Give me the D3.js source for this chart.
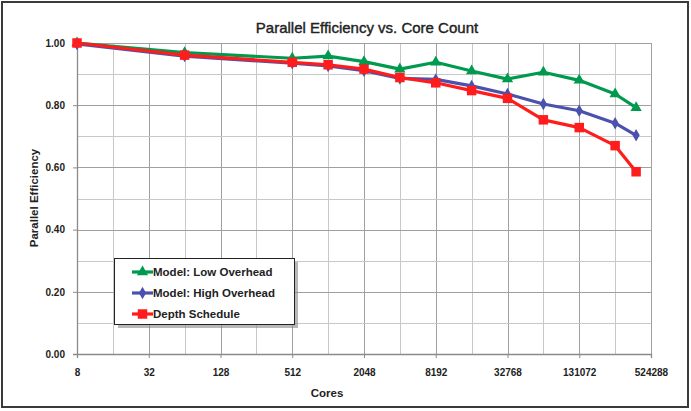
<!DOCTYPE html>
<html>
<head>
<meta charset="utf-8">
<script src="https://cdn.jsdelivr.net/npm/d3@7"></script>
<style>
  body { margin: 0; background: #fff; }
  svg text { font-family: "Liberation Sans", Arial, sans-serif; }
</style>
</head>
<body>
<svg id="chart" width="691" height="411"></svg>
<script>
// data
var cores = [8, 64, 512, 1024, 2048, 4096, 8192, 16384, 32768, 65536, 131072, 262144, 393216]
var lowOverhead  = [1.00, 0.969, 0.951, 0.958, 0.940, 0.916, 0.938, 0.910, 0.884, 0.906, 0.880, 0.836, 0.792]
var highOverhead = [0.997, 0.958, 0.935, 0.926, 0.911, 0.886, 0.883, 0.862, 0.836, 0.804, 0.782, 0.742, 0.703]
var depthSched   = [1.00, 0.961, 0.938, 0.930, 0.916, 0.889, 0.872, 0.847, 0.822, 0.753, 0.728, 0.670, 0.586]
var xTicks = [8, 32, 128, 512, 2048, 8192, 32768, 131072, 524288]
var yTicks = [0, 0.2, 0.4, 0.6, 0.8, 1.0]
var seriesNames = ["Model: Low Overhead", "Model: High Overhead", "Depth Schedule"]

var series = [
    {name: seriesNames[0], values: lowOverhead,  color: "#009a4e", marker: "triangle"},
    {name: seriesNames[1], values: highOverhead, color: "#4b52ad", marker: "diamond"},
    {name: seriesNames[2], values: depthSched,   color: "#ff1c1c", marker: "square"}
]

var margin = {left: 77, right: 40, top: 43, bottom: 57}
var screen = {width: 691, height: 411}
var graph = {
    width: screen.width - margin.left - margin.right,
    height: screen.height - margin.top - margin.bottom
}

var svg = d3.select("#chart")

// outer frame
svg.append("rect")
    .attr("x", 2).attr("y", 2)
    .attr("width", 686).attr("height", 405)
    .attr("fill", "#fff")
    .attr("stroke", "#3a3a3a")
    .attr("stroke-width", 2)

var xScale = d3.scaleLog().base(2)
    .domain([8, 524288])
    .range([0, graph.width])

var yScale = d3.scaleLinear()
    .domain([0, 1])
    .range([graph.height, 0])

var target = svg.append("g")
    .attr("transform", "translate(" + margin.left + "," + margin.top + ")")

// grid: every doubling vertically, every 0.1 horizontally
var vGrid = d3.range(4, 20).map(function(p) { return Math.pow(2, p) })
target.selectAll(".vgrid")
    .data(vGrid)
    .enter()
    .append("line")
      .attr("x1", d => Math.round(xScale(d)) + 0.5)
      .attr("x2", d => Math.round(xScale(d)) + 0.5)
      .attr("y1", 0)
      .attr("y2", graph.height)
      .attr("stroke", function(d) { return xTicks.indexOf(d) >= 0 ? "#a0a0a0" : "#c8c8c8" })

var hGrid = d3.range(1, 11).map(function(i) { return i / 10 })
target.selectAll(".hgrid")
    .data(hGrid)
    .enter()
    .append("line")
      .attr("x1", 0)
      .attr("x2", graph.width)
      .attr("y1", d => Math.round(yScale(d)) + 0.5)
      .attr("y2", d => Math.round(yScale(d)) + 0.5)
      .attr("stroke", function(d, i) { return i % 2 == 1 ? "#a0a0a0" : "#c8c8c8" })

// axes
var xAxis = d3.axisBottom(xScale)
    .tickValues(xTicks)
    .tickFormat(d3.format("d"))
    .tickSize(4)
    .tickPadding(11)

var yAxis = d3.axisLeft(yScale)
    .tickValues(yTicks)
    .tickFormat(d3.format(".2f"))
    .tickSize(4)
    .tickPadding(8)

var gx = target.append("g")
    .attr("transform", "translate(0," + graph.height + ")")
    .call(xAxis)
var gy = target.append("g").call(yAxis)

;[gx, gy].forEach(function(g) {
    g.select(".domain").attr("stroke", "#8a8a8a").attr("stroke-width", 1.3)
    g.selectAll(".tick line").attr("stroke", "#8a8a8a")
    g.selectAll(".tick text")
        .attr("fill", "#222")
        .style("font-size", "10px")
        .style("font-weight", "bold")
})

// lines and markers
var line = d3.line()
    .x(function(d, i) { return xScale(cores[i]) })
    .y(function(d) { return yScale(d) })

var markerPath = {
    triangle: d3.symbol().type(d3.symbolTriangle).size(55),
    diamond: d3.symbol().type(d3.symbolDiamond).size(45),
    square: d3.symbol().type(d3.symbolSquare).size(90)
}

var drawSeries = function(s) {
    var g = target.append("g")
    g.append("path")
        .datum(s.values)
        .attr("fill", "none")
        .attr("stroke", s.color)
        .attr("stroke-width", 3.2)
        .attr("stroke-linejoin", "round")
        .attr("d", line)
    g.selectAll("path.mk")
        .data(s.values)
        .enter()
        .append("path")
          .attr("class", "mk")
          .attr("transform", function(d, i) { return "translate(" + xScale(cores[i]) + "," + yScale(d) + ")" })
          .attr("d", markerPath[s.marker]())
          .attr("fill", s.color)
}
drawSeries(series[0])
drawSeries(series[1])
drawSeries(series[2])

// legend
var legend = svg.append("g").attr("transform", "translate(114,258)")
legend.append("rect")
    .attr("x", 4).attr("y", 4)
    .attr("width", 180).attr("height", 66)
    .attr("fill", "#888")
    .attr("opacity", 0.6)
legend.append("rect")
    .attr("x", 0.5).attr("y", 0.5)
    .attr("width", 180).attr("height", 66)
    .attr("fill", "#fff")
    .attr("stroke", "#222")

var rows = legend.selectAll(".row")
    .data(series)
    .enter()
    .append("g")
      .attr("transform", function(d, i) { return "translate(0," + (14 + i * 21) + ")" })
rows.append("line")
    .attr("x1", 18).attr("x2", 39)
    .attr("stroke", d => d.color)
    .attr("stroke-width", 3.2)
rows.append("path")
    .attr("transform", "translate(28.5,0)")
    .attr("d", d => markerPath[d.marker]())
    .attr("fill", d => d.color)
rows.append("text")
    .attr("x", 39)
    .attr("y", 4)
    .text(d => d.name)
    .style("font-size", "11.5px")
    .style("font-weight", "bold")
    .attr("fill", "#222")

// titles
svg.append("text")
    .attr("x", 367)
    .attr("y", 33)
    .attr("text-anchor", "middle")
    .style("font-size", "15px")
    .attr("fill", "#222")
    .attr("stroke", "#222")
    .attr("stroke-width", 0.4)
    .text("Parallel Efficiency vs. Core Count")

svg.append("text")
    .attr("x", 327)
    .attr("y", 397)
    .attr("text-anchor", "middle")
    .style("font-size", "11.5px")
    .style("font-weight", "bold")
    .attr("fill", "#222")
    .text("Cores")

svg.append("text")
    .attr("transform", "translate(38,198) rotate(-90)")
    .attr("text-anchor", "middle")
    .style("font-size", "11.5px")
    .style("font-weight", "bold")
    .attr("fill", "#222")
    .text("Parallel Efficiency")
</script>
</body>
</html>
